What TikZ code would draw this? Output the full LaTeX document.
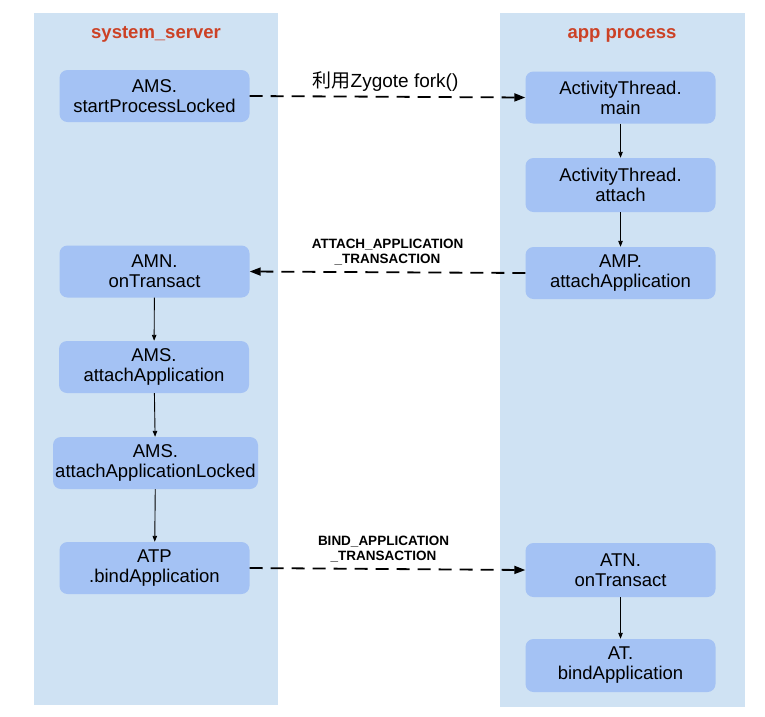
\documentclass[tikz,border=0pt]{standalone}
\usepackage{fontspec}
\setmainfont{Liberation Sans}
\newfontfamily\cjk{Noto Sans CJK SC}
\usepackage{xcolor}
\usetikzlibrary{arrows.meta}
\definecolor{laneblue}{HTML}{CFE2F3}
\definecolor{boxblue}{HTML}{A4C2F4}
\definecolor{titlered}{HTML}{CC4125}

\begin{document}
\begin{tikzpicture}[x=1pt,y=-1pt]
		\tikzset{lane/.style = {fill=laneblue}}
		\tikzset{title/.style = {font=\fontsize{18.5}{20}\selectfont\bfseries, text=titlered}}
		\tikzset{call/.style = {shape=rectangle, fill=boxblue, rounded corners=8pt, align=center,
			minimum width=190pt, minimum height=52pt, inner sep=0pt,
			font=\fontsize{18.5}{20}\selectfont}}
		\tikzset{flow/.style = {-{Triangle[length=6pt,width=4.5pt]}, line width=0.9pt}}
		\tikzset{msg/.style = {-{Triangle[length=11pt,width=8pt]}, line width=1.8pt, dash pattern=on 13pt off 8pt}}
		\tikzset{tag/.style = {align=center, font=\fontsize{13.5}{15}\selectfont\bfseries}}

		\useasboundingbox (0,0) rectangle (765,716);
		\fill[lane] (34,13) rectangle (278,705);
		\fill[lane] (500,13) rectangle (745,707);

		\node[title] (S) at (156,34) {system\_server};
		\node[title] (P) at (622,35) {app process};

		\node[call] (A) at (154.5,96) {AMS.\\startProcessLocked};
		\node[call] (B) at (154.5,271.5) {AMN.\\onTransact};
		\node[call] (C) at (154,367) {AMS.\\attachApplication};
		\node[call, minimum width=205pt] (D) at (155.5,463) {AMS.\\attachApplicationLocked};
		\node[call] (E) at (154.5,568) {ATP\\.bindApplication};

		\node[call] (F) at (620.5,97.5) {ActivityThread.\\main};
		\node[call, minimum height=54pt] (G) at (620.5,185) {ActivityThread.\\attach};
		\node[call] (H) at (620.5,273) {AMP.\\attachApplication};
		\node[call, minimum height=54pt] (I) at (620.5,570) {ATN.\\onTransact};
		\node[call, minimum height=53pt] (J) at (620.5,665.5) {AT.\\bindApplication};

		\draw[flow] (B) to (C);
		\draw[flow] (C) to (D);
		\draw[flow] (D) to (E);
		\draw[flow] (F) to (G);
		\draw[flow] (G) to (H);
		\draw[flow] (I) to (J);

		\draw[msg] (A.east) to node[above=1pt, xshift=-2pt, font=\fontsize{19}{21}\selectfont] {{\cjk 利用}Zygote fork()} (F.west);
		\draw[msg] (H.west) to node[tag, above=3pt] {ATTACH\_APPLICATION\\\_TRANSACTION} (B.east);
		\draw[msg] (E.east) to node[tag, above=3pt, xshift=-4pt] {BIND\_APPLICATION\\\_TRANSACTION} (I.west);

	\end{tikzpicture}
\end{document}
